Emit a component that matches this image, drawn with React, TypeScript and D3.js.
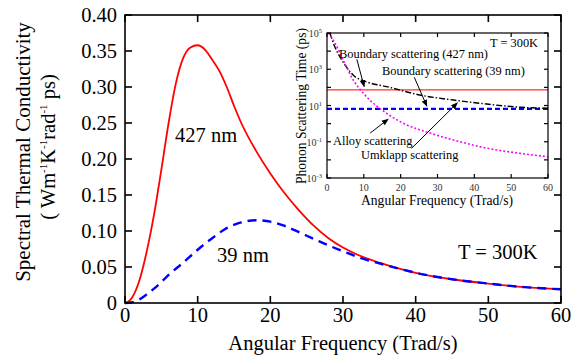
import { useEffect, useRef } from 'react';
import * as d3 from 'd3';

// main panel: spectral thermal conductivity vs angular frequency
const freqTicks = [0, 10, 20, 30, 40, 50, 60];
const kappaTicks = [0, 0.05, 0.1, 0.15, 0.2, 0.25, 0.3, 0.35, 0.4];

const freq427 = [0, 0.5, 1, 2, 3, 4, 5, 6, 7, 8, 9, 10, 11, 12, 13, 14, 15, 16, 18, 20, 22, 24, 26, 28, 30, 32, 35, 38, 40, 45, 50, 55, 60];
const kappa427 = [0, 0.002, 0.008, 0.032, 0.072, 0.123, 0.185, 0.25, 0.305, 0.34, 0.355, 0.358, 0.352, 0.338, 0.322, 0.3, 0.274, 0.25, 0.212, 0.18, 0.152, 0.128, 0.107, 0.09, 0.077, 0.067, 0.056, 0.047, 0.042, 0.033, 0.027, 0.022, 0.019];

const freq39 = [0, 1, 2, 3, 4, 5, 6, 8, 10, 12, 14, 16, 18, 20, 22, 24, 26, 28, 30, 32, 35, 38, 40, 45, 50, 55, 60];
const kappa39 = [0, 0.001, 0.005, 0.012, 0.02, 0.029, 0.039, 0.056, 0.074, 0.09, 0.104, 0.112, 0.115, 0.113, 0.107, 0.098, 0.089, 0.08, 0.072, 0.064, 0.055, 0.047, 0.042, 0.033, 0.027, 0.022, 0.019];

// inset: phonon scattering times (ps)
const tauExponents = [-3, -2, -1, 0, 1, 2, 3, 4, 5];
const tauLabelExponents = [-3, -1, 1, 3, 5];

const umklappFreq = [0.8, 2, 3.5, 5, 7.1, 10.8, 16.2, 25.2, 34.3, 43.4, 52.4, 60];
const umklappTau = [100000, 20000, 4900, 1600, 480, 200, 110, 38, 20, 12, 8, 7];

const alloyFreq = [0.4, 2.2, 4.4, 7.1, 9.9, 16.2, 20.7, 28, 34.3, 43.4, 52.4, 60];
const alloyTau = [100000, 27000, 3200, 260, 47, 3.7, 1.05, 0.3, 0.126, 0.044, 0.023, 0.015];

const boundaryTau427 = 72;
const boundaryTau39 = 6.5;

const insetNotes = [
  { text: 'Boundary scattering (427 nm)', x: 339, y: 58, from: [8.1, 3500], to: [10.1, 110] },
  { text: 'Boundary scattering (39 nm)', x: 382, y: 75, from: [23.7, 360], to: [27.1, 9.3] },
  { text: 'Alloy scattering', x: 333, y: 145, from: [11.7, 0.3], to: [16.6, 1.75] },
  { text: 'Umklapp scattering', x: 361, y: 159, from: [23, 0.044], to: [35.4, 14] },
];

const serif = '"Liberation Serif", "Times New Roman", serif';

export default function App() {
  const svgRef = useRef<SVGSVGElement>(null);

  useEffect(() => {
    if (!svgRef.current) return;
    const svg = d3.select(svgRef.current);
    svg.selectAll('*').remove();
    svg.attr('font-family', serif);

    // ---- main panel
    const x = d3.scaleLinear().domain([0, 60]).range([125, 561]);
    const y = d3.scaleLinear().domain([0, 0.4]).range([303, 15]);

    const line = d3.line<number>().curve(d3.curveMonotoneX);

    svg.append('path')
      .attr('d', line.x(d => x(d)).y((d, i) => y(kappa427[i]))(freq427))
      .attr('fill', 'none').attr('stroke', '#ff0000').attr('stroke-width', 1.8);

    svg.append('path')
      .attr('d', line.x(d => x(d)).y((d, i) => y(kappa39[i]))(freq39))
      .attr('fill', 'none').attr('stroke', '#0000ff').attr('stroke-width', 2.4)
      .attr('stroke-dasharray', '9,6');

    const frame = svg.append('g').attr('stroke', '#000').attr('stroke-width', 1.6);
    freqTicks.forEach(t => {
      frame.append('line').attr('x1', x(t)).attr('x2', x(t)).attr('y1', 303).attr('y2', 296);
      frame.append('line').attr('x1', x(t)).attr('x2', x(t)).attr('y1', 15).attr('y2', 22);
    });
    kappaTicks.forEach(t => {
      frame.append('line').attr('x1', 125).attr('x2', 132).attr('y1', y(t)).attr('y2', y(t));
      frame.append('line').attr('x1', 561).attr('x2', 554).attr('y1', y(t)).attr('y2', y(t));
    });
    frame.append('rect').attr('x', 125).attr('y', 15).attr('width', 436).attr('height', 288).attr('fill', 'none');

    freqTicks.forEach(t => {
      svg.append('text').attr('x', x(t)).attr('y', 322).attr('text-anchor', 'middle')
        .attr('font-size', 20.5).text(String(t));
    });
    kappaTicks.forEach(t => {
      svg.append('text').attr('x', 117).attr('y', y(t) + 7).attr('text-anchor', 'end')
        .attr('font-size', 20.5).text(t === 0 ? '0' : t.toFixed(2));
    });

    svg.append('text').attr('x', 343).attr('y', 350).attr('text-anchor', 'middle')
      .attr('font-size', 20.5).text('Angular Frequency (Trad/s)');

    svg.append('text').attr('transform', 'translate(30,152) rotate(-90)').attr('text-anchor', 'middle')
      .attr('font-size', 21).text('Spectral Thermal Conductivity');

    const unit = svg.append('text').attr('transform', 'translate(55,147) rotate(-90)').attr('text-anchor', 'middle')
      .attr('font-size', 20.5);
    unit.append('tspan').text('( Wm');
    unit.append('tspan').attr('font-size', 11).attr('dy', -8).text('-1');
    unit.append('tspan').attr('dy', 8).text('K');
    unit.append('tspan').attr('font-size', 11).attr('dy', -8).text('-1');
    unit.append('tspan').attr('dy', 8).text('rad');
    unit.append('tspan').attr('font-size', 11).attr('dy', -8).text('-1');
    unit.append('tspan').attr('dy', 8).text('  ps)');

    svg.append('text').attr('x', 175).attr('y', 142).attr('font-size', 20.5).text('427 nm');
    svg.append('text').attr('x', 217).attr('y', 262).attr('font-size', 20.5).text('39 nm');
    svg.append('text').attr('x', 458).attr('y', 259).attr('font-size', 20.5).text('T = 300K');

    // ---- inset
    const ix = d3.scaleLinear().domain([0, 60]).range([327, 548]);
    const iy = d3.scaleLog().domain([1e-3, 1e5]).range([178, 33]);

    svg.append('rect').attr('x', 327).attr('y', 33).attr('width', 221).attr('height', 145).attr('fill', '#fff');

    svg.append('clipPath').attr('id', 'inset-clip')
      .append('rect').attr('x', 327).attr('y', 33).attr('width', 221).attr('height', 145);
    const plot = svg.append('g').attr('clip-path', 'url(#inset-clip)');

    plot.append('line').attr('x1', ix(0)).attr('x2', ix(60))
      .attr('y1', iy(boundaryTau427)).attr('y2', iy(boundaryTau427))
      .attr('stroke', '#ff3030').attr('stroke-width', 1.3);
    plot.append('line').attr('x1', ix(0)).attr('x2', ix(60))
      .attr('y1', iy(boundaryTau39)).attr('y2', iy(boundaryTau39))
      .attr('stroke', '#0000ff').attr('stroke-width', 2.4).attr('stroke-dasharray', '5,3');

    const iline = d3.line<number>().curve(d3.curveMonotoneX);
    plot.append('path')
      .attr('d', iline.x(d => ix(d)).y((d, i) => iy(umklappTau[i]))(umklappFreq))
      .attr('fill', 'none').attr('stroke', '#000').attr('stroke-width', 1.4)
      .attr('stroke-dasharray', '6,2,1.5,2');
    plot.append('path')
      .attr('d', iline.x(d => ix(d)).y((d, i) => iy(alloyTau[i]))(alloyFreq))
      .attr('fill', 'none').attr('stroke', '#ff00ff').attr('stroke-width', 1.6)
      .attr('stroke-dasharray', '2,2');

    const iframe = svg.append('g').attr('stroke', '#000').attr('stroke-width', 1.2);
    freqTicks.forEach(t => {
      iframe.append('line').attr('x1', ix(t)).attr('x2', ix(t)).attr('y1', 178).attr('y2', 174);
      iframe.append('line').attr('x1', ix(t)).attr('x2', ix(t)).attr('y1', 33).attr('y2', 37);
    });
    tauExponents.forEach(e => {
      const v = Math.pow(10, e);
      iframe.append('line').attr('x1', 327).attr('x2', 331).attr('y1', iy(v)).attr('y2', iy(v));
      iframe.append('line').attr('x1', 548).attr('x2', 544).attr('y1', iy(v)).attr('y2', iy(v));
    });
    iframe.append('rect').attr('x', 327).attr('y', 33).attr('width', 221).attr('height', 145).attr('fill', 'none');

    freqTicks.forEach(t => {
      svg.append('text').attr('x', ix(t)).attr('y', 191).attr('text-anchor', 'middle')
        .attr('font-size', 10).attr('fill', '#333').text(String(t));
    });
    tauLabelExponents.forEach(e => {
      const lbl = svg.append('text').attr('x', 322).attr('y', iy(Math.pow(10, e)) + 4)
        .attr('text-anchor', 'end').attr('font-size', 10).attr('fill', '#333');
      lbl.append('tspan').text('10');
      lbl.append('tspan').attr('font-size', 6.5).attr('dy', -4).text(String(e));
    });

    svg.append('text').attr('x', 437).attr('y', 205).attr('text-anchor', 'middle')
      .attr('font-size', 13.6).text('Angular Frequency (Trad/s)');
    svg.append('text').attr('transform', 'translate(306,106) rotate(-90)').attr('text-anchor', 'middle')
      .attr('font-size', 13.6).text('Phonon Scattering Time (ps)');

    svg.append('text').attr('x', 490).attr('y', 47).attr('font-size', 12.4).text('T = 300K');

    const defs = svg.append('defs');
    defs.append('marker').attr('id', 'arrow').attr('viewBox', '0 0 10 10')
      .attr('refX', 9).attr('refY', 5).attr('markerWidth', 7).attr('markerHeight', 7)
      .attr('markerUnits', 'userSpaceOnUse').attr('orient', 'auto')
      .append('path').attr('d', 'M0,1 L10,5 L0,9 Z').attr('fill', '#000');

    insetNotes.forEach(n => {
      svg.append('line')
        .attr('x1', ix(n.from[0])).attr('y1', iy(n.from[1]))
        .attr('x2', ix(n.to[0])).attr('y2', iy(n.to[1]))
        .attr('stroke', '#000').attr('stroke-width', 1).attr('marker-end', 'url(#arrow)');
      svg.append('text').attr('x', n.x).attr('y', n.y).attr('font-size', 12.4).text(n.text);
    });
  }, []);

  return (
    <svg ref={svgRef} width={571} height={358} style={{ position: 'absolute', left: 0, top: 0, background: '#fff' }} />
  );
}
